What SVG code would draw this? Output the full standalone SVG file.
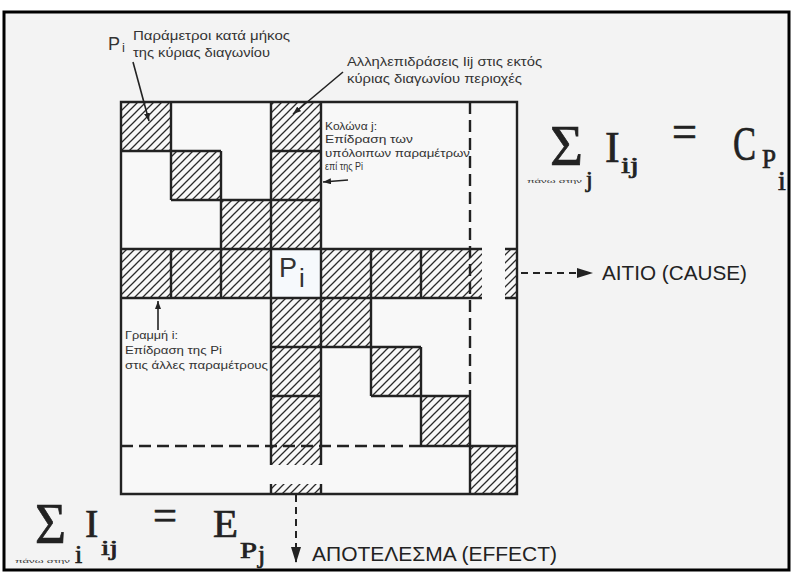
<svg xmlns="http://www.w3.org/2000/svg" width="791" height="572" viewBox="0 0 791 572">
<defs>
<pattern id="hatch" patternUnits="userSpaceOnUse" width="8" height="8">
<path d="M-2,2 L2,-2 M0,8 L8,0 M6,10 L10,6" stroke="#2a2a2a" stroke-width="1.3"/>
</pattern>
<marker id="big" viewBox="0 0 16 10" refX="16" refY="5" markerWidth="16" markerHeight="10" markerUnits="userSpaceOnUse" orient="auto">
<path d="M0,0 L16,5 L0,10 z" fill="#222"/>
</marker>
<marker id="small" viewBox="0 0 8 6" refX="8" refY="3" markerWidth="8" markerHeight="6" markerUnits="userSpaceOnUse" orient="auto">
<path d="M0,0 L8,3 L0,6 z" fill="#222"/>
</marker>
</defs>
<style>
.ln{stroke:#222;stroke-width:2.4;fill:none}
.dl{stroke:#222;stroke-width:2.4;fill:none;stroke-dasharray:12 6}
.hc{fill:url(#hatch)}
.lbl{font-family:"Liberation Sans",Arial,sans-serif;fill:#333}
.big{font-family:"Liberation Sans",Arial,sans-serif;fill:#222;font-size:20px}
.m{font-family:"Liberation Serif","Times New Roman",serif;fill:#222;stroke:#222;stroke-width:0.7}
.ld{stroke:#222;stroke-width:1.6;fill:none}
.da{stroke:#222;stroke-width:2;fill:none;stroke-dasharray:7 5}
</style>

<rect width="791" height="572" fill="#ffffff"/>
<rect x="4" y="12" width="785" height="558" fill="#f3f3f3" stroke="#000" stroke-width="3"/>

<g id="matrix">
<rect x="121" y="102" width="396" height="392" fill="#f8f8f8"/>
<rect x="271" y="249" width="50" height="49" fill="#f6f9fc"/>
<g id="hatched-cells">
<rect class="hc" x="121" y="102" width="50" height="49"/>
<rect class="hc" x="171" y="151" width="50" height="49"/>
<rect class="hc" x="221" y="200" width="50" height="49"/>
<rect class="hc" x="271" y="102" width="50" height="147"/>
<rect class="hc" x="121" y="249" width="150" height="49"/>
<rect class="hc" x="321" y="249" width="161" height="49"/>
<rect class="hc" x="505" y="249" width="12" height="49"/>
<rect class="hc" x="271" y="298" width="50" height="167"/>
<rect class="hc" x="271" y="484" width="50" height="10"/>
<rect class="hc" x="321" y="298" width="50" height="49"/>
<rect class="hc" x="371" y="347" width="50" height="49"/>
<rect class="hc" x="421" y="396" width="49" height="50"/>
<rect class="hc" x="470" y="446" width="47" height="48"/>
</g>
<path class="ln" d="M121,102 H517 V494 H121 Z
M171,102 V200 M121,151 H221 M171,200 H271 M221,151 V298
M271,102 V465 M271,484 V494 M321,102 V465 M321,484 V494
M271,151 H321 M271,200 H321
M121,249 H482 M505,249 H517 M121,298 H482 M505,298 H517
M171,249 V298 M371,249 V298 M421,249 V298
M371,298 V396 M271,347 H421 M421,347 V446
M271,396 H321 M371,396 H470 M470,396 V494 M421,446 H517"/>
<path class="dl" d="M470,102 V396 M121,446 H421"/>
<g id="cell-pi">
<text class="lbl" x="279" y="277" font-size="27" fill="#222">P</text>
<text class="lbl" x="299" y="287" font-size="26" fill="#222">i</text>
</g>
</g>

<g id="connectors">
<path class="ld" d="M133,62 L149,121" marker-end="url(#small)"/>
<path class="ld" d="M343,72 L293,114" marker-end="url(#small)"/>
<path class="ld" d="M348,180 L323,182" marker-end="url(#small)"/>
<path class="ld" d="M158,330 L158,301" marker-end="url(#small)"/>
<path class="da" d="M521,273 H593" marker-end="url(#big)"/>
<path class="da" d="M296,495 V563" marker-end="url(#big)"/>
</g>

<g id="label-pi">
<text class="lbl" x="108" y="50" font-size="18">P</text>
<text class="lbl" x="122" y="52" font-size="13">i</text>
<text class="lbl" x="133" y="40" font-size="12" textLength="157" lengthAdjust="spacingAndGlyphs">Παράμετροι κατά μήκος</text>
<text class="lbl" x="133" y="57" font-size="12" textLength="137" lengthAdjust="spacingAndGlyphs">της κύριας διαγωνίου</text>
</g>
<g id="label-interactions">
<text class="lbl" x="347" y="66" font-size="13" textLength="195" lengthAdjust="spacingAndGlyphs">Αλληλεπιδράσεις Iij στις εκτός</text>
<text class="lbl" x="347" y="83" font-size="13" textLength="175" lengthAdjust="spacingAndGlyphs">κύριας διαγωνίου περιοχές</text>
</g>
<g id="label-column">
<text class="lbl" x="325" y="130" font-size="11.5" textLength="52" lengthAdjust="spacingAndGlyphs">Κολώνα j:</text>
<text class="lbl" x="325" y="143" font-size="11.5" textLength="88" lengthAdjust="spacingAndGlyphs">Επίδραση των</text>
<text class="lbl" x="325" y="157" font-size="11.5" textLength="145" lengthAdjust="spacingAndGlyphs">υπόλοιπων παραμέτρων</text>
<text class="lbl" x="325" y="170" font-size="11.5" textLength="38" lengthAdjust="spacingAndGlyphs">επί της Pi</text>
</g>
<g id="label-row">
<text class="lbl" x="125" y="339" font-size="11.5" textLength="53" lengthAdjust="spacingAndGlyphs">Γραμμή i:</text>
<text class="lbl" x="125" y="354" font-size="11.5" textLength="97" lengthAdjust="spacingAndGlyphs">Επίδραση της Pi</text>
<text class="lbl" x="125" y="369" font-size="11.5" textLength="143" lengthAdjust="spacingAndGlyphs">στις άλλες παραμέτρους</text>
</g>
<g id="label-cause">
<text class="big" x="602" y="280" textLength="145" lengthAdjust="spacingAndGlyphs">ΑΙΤΙΟ (CAUSE)</text>
</g>
<g id="label-effect">
<text class="big" x="312" y="561" textLength="245" lengthAdjust="spacingAndGlyphs">ΑΠΟΤΕΛΕΣΜΑ (EFFECT)</text>
</g>

<g id="formula-cause">
<text class="m" x="550" y="165" font-size="56" textLength="33" lengthAdjust="spacingAndGlyphs">Σ</text>
<text class="lbl" x="527" y="183" font-size="6" textLength="55" lengthAdjust="spacingAndGlyphs">πάνω στην</text>
<text class="m" x="586" y="187" font-size="24">j</text>
<text class="m" x="605" y="162" font-size="44">I</text>
<text class="m" x="621" y="173" font-size="24" textLength="18" lengthAdjust="spacingAndGlyphs">ij</text>
<text class="m" x="672" y="147" font-size="46" textLength="25" lengthAdjust="spacingAndGlyphs">=</text>
<text class="m" transform="matrix(0.72 0 0 1 733 160)" font-size="48">C</text>
<text class="m" x="762" y="168" font-size="28" textLength="14" lengthAdjust="spacingAndGlyphs">P</text>
<text class="m" x="778" y="190" font-size="28">i</text>
</g>

<g id="formula-effect">
<text class="m" x="35" y="543" font-size="56" textLength="31" lengthAdjust="spacingAndGlyphs">Σ</text>
<text class="lbl" x="15" y="563" font-size="6" textLength="55" lengthAdjust="spacingAndGlyphs">πάνω στην</text>
<text class="m" x="75" y="563" font-size="26">i</text>
<text class="m" x="85" y="537" font-size="40">I</text>
<text class="m" x="101" y="555" font-size="22" textLength="17" lengthAdjust="spacingAndGlyphs">ij</text>
<text class="m" x="153" y="530" font-size="44" textLength="24" lengthAdjust="spacingAndGlyphs">=</text>
<text class="m" x="213" y="537" font-size="40" textLength="25" lengthAdjust="spacingAndGlyphs">E</text>
<text class="m" x="240" y="558" font-size="23" textLength="17" lengthAdjust="spacingAndGlyphs">P</text>
<text class="m" x="258" y="563" font-size="26">j</text>
</g>
</svg>
